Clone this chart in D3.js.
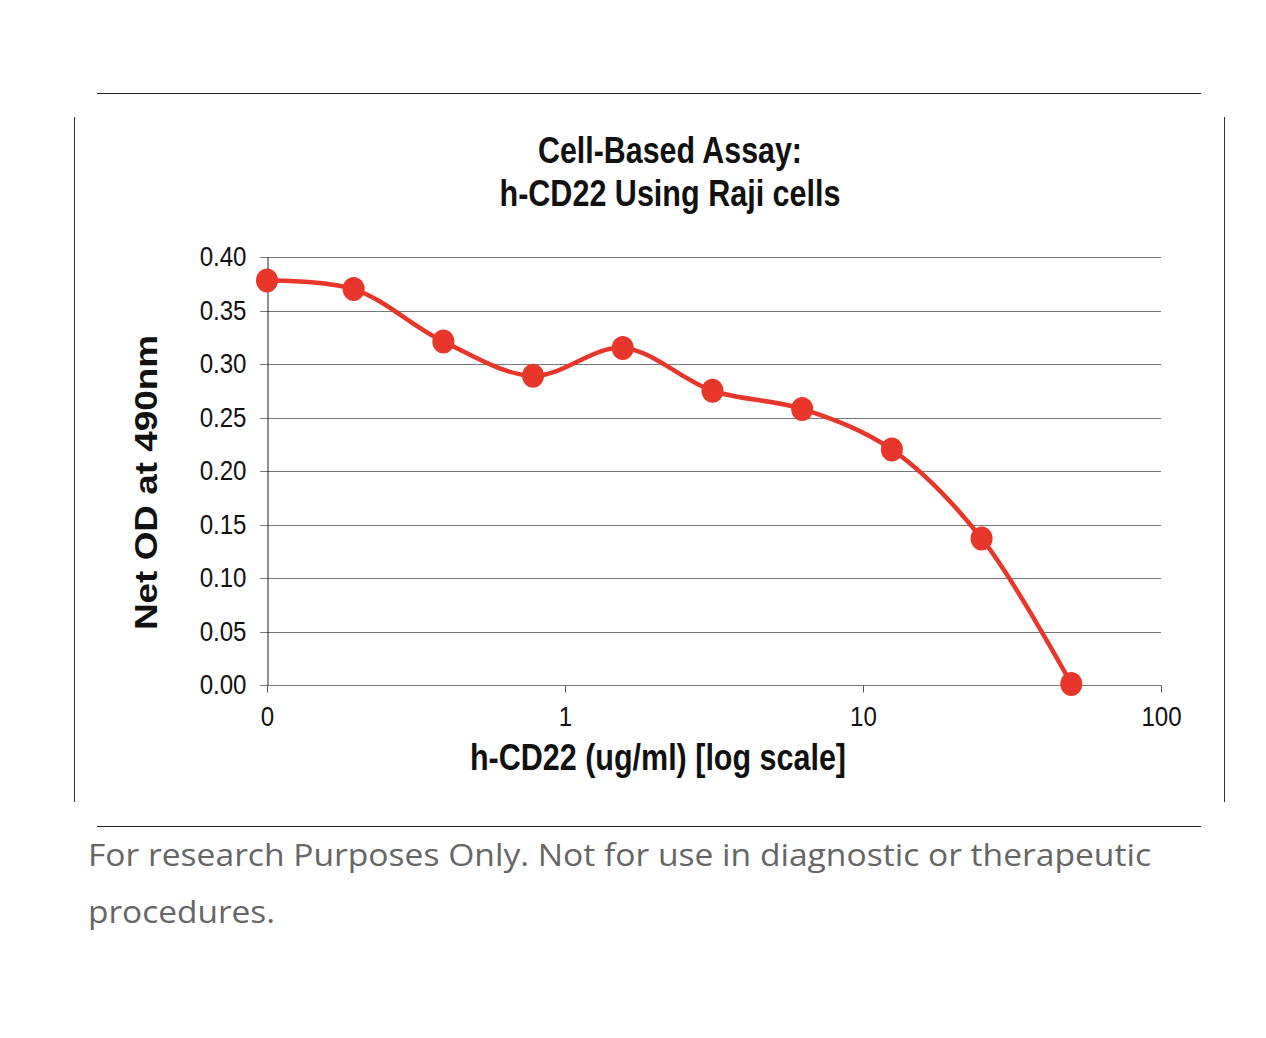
<!DOCTYPE html>
<html><head><meta charset="utf-8">
<script src="https://cdn.jsdelivr.net/npm/d3@7"></script>
<style>
body{margin:0;background:#fff;}
svg{display:block;}
</style></head>
<body>
<svg id="c" width="1266" height="1038"></svg>
<script>
const concentrations = [0.1, 0.1953125, 0.390625, 0.78125, 1.5625, 3.125, 6.25, 12.5, 25, 50];
const netOD = [0.378, 0.370, 0.321, 0.289, 0.315, 0.275, 0.258, 0.220, 0.137, 0.001];
const yTicks = [0, 0.05, 0.10, 0.15, 0.20, 0.25, 0.30, 0.35, 0.40];
const xTicks = [0.1, 1, 10, 100];
const xTickLabels = ["0", "1", "10", "100"];
const titleLines = ["Cell-Based Assay:", "h-CD22 Using Raji cells"];
const xTitle = "h-CD22 (ug/ml) [log scale]";
const yTitle = "Net OD at 490nm";
const footerLines = ["For research Purposes Only. Not for use in diagnostic or therapeutic", "procedures."];

const svg = d3.select("#c");
const narrow = "'Liberation Sans',Arial,sans-serif";
function squeeze(sel, f){
  sel.each(function(){
    const L = this.getComputedTextLength();
    d3.select(this).attr("textLength", L*f).attr("lengthAdjust","spacingAndGlyphs");
  });
}
function fitTo(sel, w){
  sel.attr("textLength", w).attr("lengthAdjust","spacingAndGlyphs");
}

// frame lines
svg.append("line").attr("x1",97).attr("x2",1201).attr("y1",93.5).attr("y2",93.5).attr("stroke","#222").attr("stroke-width",1.2);
svg.append("line").attr("x1",97).attr("x2",1201).attr("y1",826.5).attr("y2",826.5).attr("stroke","#222").attr("stroke-width",1.2);
svg.append("line").attr("x1",74.5).attr("x2",74.5).attr("y1",117).attr("y2",802).attr("stroke","#333").attr("stroke-width",1);
svg.append("line").attr("x1",1224.5).attr("x2",1224.5).attr("y1",117).attr("y2",802).attr("stroke","#333").attr("stroke-width",1);

const x = d3.scaleLog().domain([0.1, 100]).range([267, 1161]);
const y = d3.scaleLinear().domain([0, 0.4]).range([685, 257]);

// gridlines
svg.append("g").selectAll("line").data(yTicks).join("line")
  .attr("x1",260).attr("x2",1161)
  .attr("y1",d=>Math.round(y(d))+0.5).attr("y2",d=>Math.round(y(d))+0.5)
  .attr("stroke","#777").attr("stroke-width",1);

// y axis
const yAxis = d3.axisLeft(y).tickValues(yTicks).tickFormat(d3.format(".2f")).tickSize(0).tickPadding(21);
const gy = svg.append("g").attr("transform","translate(267.5,0)").call(yAxis);
gy.select(".domain").attr("stroke","#222");
gy.selectAll("text").attr("font-family",narrow).attr("font-size",28).attr("fill","#111").call(squeeze,0.86);

// x axis
const xAxis = d3.axisBottom(x).tickValues(xTicks).tickFormat((d,i)=>xTickLabels[i]).tickSize(7).tickPadding(14);
const gx = svg.append("g").attr("transform","translate(0,685.5)").call(xAxis);
gx.select(".domain").remove();
gx.selectAll(".tick line").attr("stroke","#555");
gx.selectAll("text").attr("font-family",narrow).attr("font-size",28).attr("fill","#111").call(squeeze,0.86);

// curve
const line = d3.line().x((d,i)=>x(concentrations[i])).y(d=>y(d)).curve(d3.curveCatmullRom.alpha(0.5));
svg.append("path").datum(netOD).attr("d",line).attr("fill","none").attr("stroke","#e8372a").attr("stroke-width",4.5);
svg.append("g").selectAll("ellipse").data(netOD).join("ellipse")
  .attr("cx",(d,i)=>x(concentrations[i])).attr("cy",d=>y(d))
  .attr("rx",11).attr("ry",12).attr("fill","#e8372a");

// titles
const titleW = [264, 341];
svg.append("g").selectAll("text").data(titleLines).join("text")
  .attr("x",670).attr("y",(d,i)=>163+i*43).attr("text-anchor","middle")
  .attr("font-family",narrow).attr("font-weight","bold").attr("font-size",36).attr("fill","#111")
  .attr("textLength",(d,i)=>titleW[i]).attr("lengthAdjust","spacingAndGlyphs").text(d=>d);
svg.append("text").attr("x",658).attr("y",770).attr("text-anchor","middle").attr("font-family",narrow).attr("font-weight","bold").attr("font-size",36).attr("fill","#111").text(xTitle).call(fitTo,376);
svg.append("text").attr("transform","translate(157,482.5) rotate(-90)").attr("text-anchor","middle").attr("font-family","'Liberation Sans',Arial,sans-serif").attr("font-weight","bold").attr("font-size",31).attr("fill","#111").text(yTitle).call(fitTo,295);

// footer
const footW = [1063, 187];
svg.append("g").selectAll("text").data(footerLines).join("text")
  .attr("x",88).attr("y",(d,i)=>866+i*57).attr("font-family","'Open Sans',sans-serif").attr("font-size",31).attr("fill","#666")
  .attr("textLength",(d,i)=>footW[i]).attr("lengthAdjust","spacingAndGlyphs").text(d=>d);
</script>
</body></html>
